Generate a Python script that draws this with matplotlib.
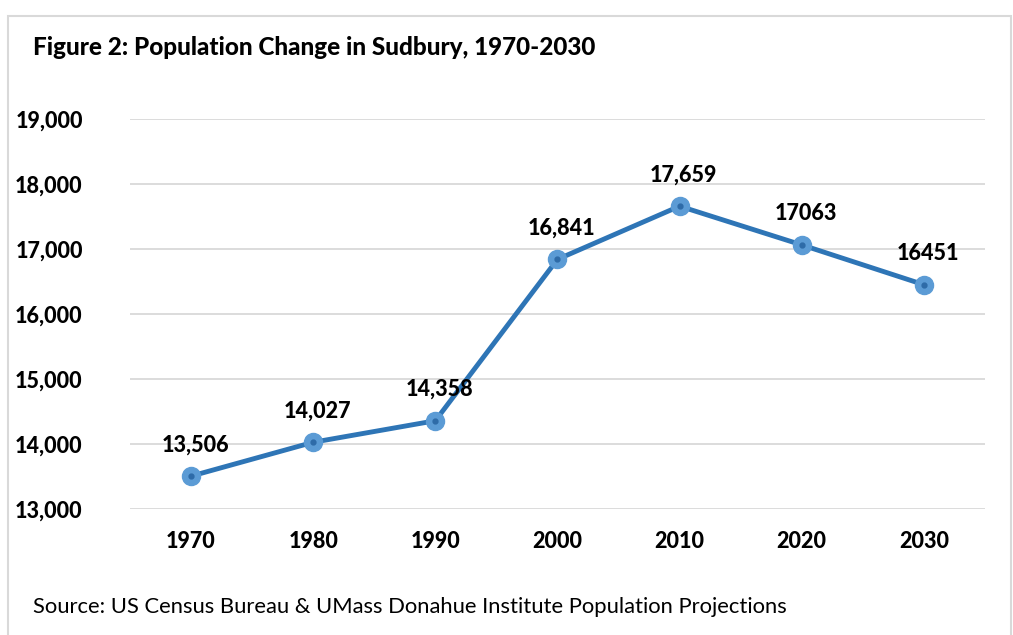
import matplotlib.pyplot as plt
from matplotlib.patches import Rectangle

plt.rcParams['font.family'] = ['Lato', 'DejaVu Sans']

years = ['1970', '1980', '1990', '2000', '2010', '2020', '2030']
population = [13506, 14027, 14358, 16841, 17659, 17063, 16451]
point_labels = ['13,506', '14,027', '14,358', '16,841', '17,659', '17063', '16451']
yticks = [13000, 14000, 15000, 16000, 17000, 18000, 19000]

fig = plt.figure(figsize=(10.13, 6.35), dpi=100)
ax = fig.add_axes([0.1283, 0.1984, 0.844, 0.6142])

x = range(len(years))
ax.plot(x, population, color='#2E75B6', linewidth=3.5, zorder=3)
ax.plot(x, population, linestyle='none', marker='o', markersize=13,
        markerfacecolor='#5B9BD5', markeredgecolor='#5B9BD5', zorder=4)
ax.plot(x, population, linestyle='none', marker='o', markersize=3.5,
        markerfacecolor='#2E6BA8', markeredgecolor='#2E6BA8', zorder=5)

for i, (v, lab) in enumerate(zip(population, point_labels)):
    ax.annotate(lab, (i, v), xytext=(3, 15), textcoords='offset points',
                ha='center', va='bottom', fontsize=15.5, fontweight='black', color='#000000')

ax.set_xlim(-0.5, len(years) - 0.5)
ax.set_ylim(13000, 19000)
ax.set_yticks(yticks)
ax.set_yticklabels(['{:,}'.format(t) for t in yticks])
ax.set_xticks(list(x))
ax.set_xticklabels(years)
ax.grid(axis='y', color='#D9D9D9', linewidth=1.3)
ax.set_axisbelow(True)
for s in ax.spines.values():
    s.set_visible(False)
ax.tick_params(length=0, labelsize=15.5, pad=16)
for t in ax.get_xticklabels() + ax.get_yticklabels():
    t.set_fontweight('black')
ax.tick_params(axis='y', pad=34)

fig.text(0.0326, 0.925, 'Figure 2: Population Change in Sudbury, 1970-2030',
         fontsize=17.5, fontweight='black', ha='left', va='center')
fig.text(0.0326, 0.044, 'Source: US Census Bureau & UMass Donahue Institute Population Projections',
         fontsize=15.8, ha='left', va='center')

fig.patches.append(Rectangle((8 / 1013, -0.01), 1003 / 1013, 0.985, transform=fig.transFigure,
                             fill=False, edgecolor='#D9D9D9', linewidth=1.5))

fig.savefig('out.png', dpi=100)
